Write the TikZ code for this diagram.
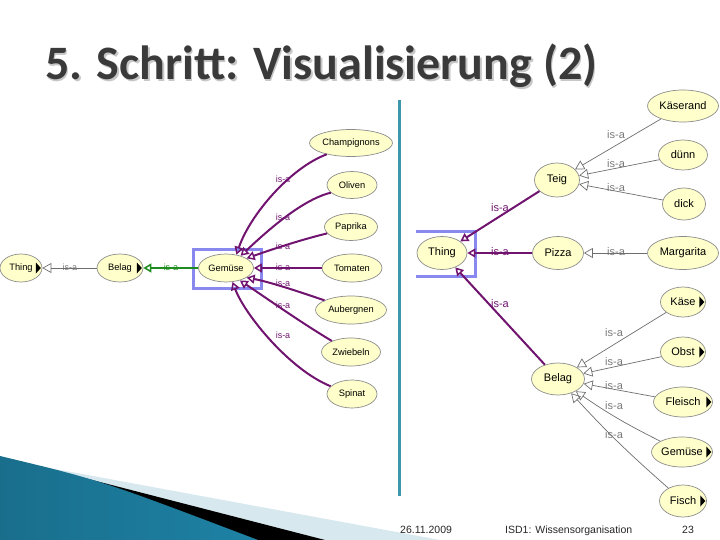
\documentclass[tikz,border=0pt]{standalone}
\usepackage{fontspec}
\setmainfont{Liberation Sans}
\newfontfamily\titlefont{Carlito}
\usetikzlibrary{arrows.meta,shapes.geometric,calc}
\definecolor{nodefill}{HTML}{FFFFCC}
\definecolor{nodedraw}{HTML}{8C8C8C}
\definecolor{isapurple}{RGB}{112,20,112}
\definecolor{isagreen}{RGB}{30,140,30}
\definecolor{isagray}{RGB}{110,110,110}
\definecolor{labgray}{RGB}{120,120,120}
\definecolor{selblue}{RGB}{136,136,238}
\definecolor{tealline}{RGB}{60,150,172}
\definecolor{titlegray}{RGB}{58,58,58}
\definecolor{lightband}{RGB}{215,232,238}
\definecolor{swdark}{RGB}{25,110,140}
\definecolor{swmid}{RGB}{90,180,215}
\definecolor{swright}{RGB}{30,130,165}
\newcommand{\expmark}[1]{\fill ([xshift=-1.5pt]#1.east) -- ++(-5,-5.5) -- ++(0,11) -- cycle;}
\begin{document}
\begin{tikzpicture}[x=1pt,y=-1pt,
  cls/.style={ellipse, draw=nodedraw, fill=nodefill, line width=0.7pt, inner sep=0pt},
  smallcls/.style={cls, font=\fontsize{9.3}{10}\selectfont},
  bigcls/.style={cls, font=\fontsize{11}{12}\selectfont},
  lsmall/.style={font=\fontsize{9}{10}\selectfont, inner sep=0pt},
  lbig/.style={font=\fontsize{11}{12}\selectfont, inner sep=0pt},
  grayedge/.style={draw=isagray, line width=0.7pt, -{Triangle[open, length=9pt, width=10pt]}},
  greenedge/.style={draw=isagreen, line width=2pt, -{Triangle[open, length=8pt, width=9pt, line width=1.5pt]}},
  purpleedge/.style={draw=isapurple, line width=2pt, -{Triangle[open, length=8pt, width=9pt, line width=1.5pt]}},
  selrect/.style={draw=selblue, line width=3pt},
  foot/.style={font=\fontsize{10.5}{12}\selectfont, text=black!85, anchor=base west, inner sep=0pt},
  titletext/.style={anchor=base west, inner sep=0pt, font=\titlefont\fontsize{48}{52}\selectfont\bfseries}
]
\useasboundingbox (0,0) rectangle (720,540);
% swoosh
\fill[lightband] (36,465.5) -- (440,540) -- (0,540) -- cycle;
\fill[black] (36,465.5) -- (325,540) -- (0,540) -- cycle;
\shade[left color=swdark, middle color=swmid, right color=swright] (0,456) .. controls (100,480) .. (258,540) -- (0,540) -- cycle;
% vertical divider
\draw[tealline, line width=3pt] (399,100) -- (399,496);
% title
\node[titletext, text=black!22] at (46.5,81.5) {5. Schritt: Visualisierung (2)};
\node[titletext, text=titlegray] (title) at (45,80) {5. Schritt: Visualisierung (2)};
% selection rectangles
\draw[selrect] (193,249) rectangle (261,288);
\draw[selrect] (416,231.5) -- (475,231.5) -- (475,276.5) -- (416,276.5);
% left nodes
\node[smallcls, minimum width=42pt, minimum height=28pt] (thingL) at (21,268) {Thing\hspace{3pt}};
\node[smallcls, minimum width=46pt, minimum height=28pt] (belagL) at (120,268) {Belag};
\node[smallcls, minimum width=55pt, minimum height=28pt] (gemL) at (226,268) {Gemüse};
\node[smallcls, minimum width=83pt, minimum height=27pt] (champ) at (351,143) {Champignons};
\node[smallcls, minimum width=50pt, minimum height=27pt] (oliv) at (352,185) {Oliven};
\node[smallcls, minimum width=53pt, minimum height=27pt] (papr) at (351,227) {Paprika};
\node[smallcls, minimum width=60pt, minimum height=28pt] (toma) at (352,268) {Tomaten};
\node[smallcls, minimum width=71pt, minimum height=28pt] (auber) at (351,310) {Aubergnen};
\node[smallcls, minimum width=59pt, minimum height=28pt] (zwieb) at (351,352) {Zwiebeln};
\node[smallcls, minimum width=50pt, minimum height=28pt] (spin) at (352,394) {Spinat};
% right nodes
\node[bigcls, minimum width=71pt, minimum height=32pt] (kaeserand) at (683,106) {Käserand};
\node[bigcls, minimum width=49pt, minimum height=30pt] (duenn) at (683,155) {dünn};
\node[bigcls, minimum width=43pt, minimum height=32pt] (dick) at (684,204) {dick};
\node[bigcls, minimum width=45pt, minimum height=34pt] (teig) at (557,180) {Teig};
\node[bigcls, minimum width=50pt, minimum height=33pt] (thingR) at (442,253) {Thing};
\node[bigcls, minimum width=51pt, minimum height=33pt] (pizza) at (558,253) {Pizza};
\node[bigcls, minimum width=71pt, minimum height=33pt] (marg) at (683,253) {Margarita};
\node[bigcls, minimum width=45pt, minimum height=30pt] (kaese) at (683,302) {Käse\hspace{6pt}};
\node[bigcls, minimum width=45pt, minimum height=30pt] (obst) at (683,352) {Obst\hspace{6pt}};
\node[bigcls, minimum width=59pt, minimum height=30pt] (fleisch) at (683,402) {Fleisch\hspace{6pt}};
\node[bigcls, minimum width=61pt, minimum height=30pt] (gemR) at (682,452) {Gemüse\hspace{6pt}};
\node[bigcls, minimum width=47pt, minimum height=32pt] (fisch) at (683,501) {Fisch\hspace{6pt}};
\node[bigcls, minimum width=53pt, minimum height=32pt] (belagR) at (558,379) {Belag};
% left edges
\draw[grayedge] (belagL) -- (thingL);
\draw[greenedge] (gemL) -- (belagL);
\draw[purpleedge] (champ.205) .. controls (290,168) and (250,215) .. (gemL.52);
\draw[purpleedge] (oliv.200) .. controls (300,200) and (262,236) .. (gemL.40);
\draw[purpleedge] (papr.195) .. controls (300,240) and (270,250) .. (gemL.25);
\draw[purpleedge] (toma) -- (gemL);
\draw[purpleedge] (auber.160) .. controls (300,292) and (270,282) .. (gemL.-25);
\draw[purpleedge] (zwieb.150) .. controls (300,322) and (262,295) .. (gemL.-42);
\draw[purpleedge] (spin.160) .. controls (290,370) and (245,315) .. (gemL.-65);
% right edges
\draw[grayedge] (kaeserand) -- (teig);
\draw[grayedge] (duenn) -- (teig);
\draw[grayedge] (dick) -- (teig);
\draw[grayedge] (marg) -- (pizza);
\draw[grayedge] (kaese) -- (belagR);
\draw[grayedge] (obst) -- (belagR);
\draw[grayedge] (fleisch) -- (belagR);
\draw[grayedge] (gemR) to[bend left=4] (belagR);
\draw[grayedge] (fisch) to[bend left=3] (belagR);
\draw[purpleedge] (teig) -- (thingR);
\draw[purpleedge] (pizza) -- (thingR);
\draw[purpleedge] (belagR) -- (thingR);
% expand markers
\expmark{thingL}
\expmark{belagL}
\expmark{kaese}
\expmark{obst}
\expmark{fleisch}
\expmark{gemR}
\expmark{fisch}
% labels left
\node[lsmall, text=labgray] (l1) at (70,267) {is-a};
\node[lsmall, text=isagreen] (l2) at (171,267) {is-a};
\node[lsmall, text=isapurple] (l3) at (283,179) {is-a};
\node[lsmall, text=isapurple] (l4) at (283,217) {is-a};
\node[lsmall, text=isapurple] (l5) at (283,246) {is-a};
\node[lsmall, text=isapurple] (l6) at (283,267) {is-a};
\node[lsmall, text=isapurple] (l7) at (283,283) {is-a};
\node[lsmall, text=isapurple] (l8) at (283,305) {is-a};
\node[lsmall, text=isapurple] (l9) at (283,335) {is-a};
% labels right
\node[lbig, text=isapurple] (r1) at (500,208) {is-a};
\node[lbig, text=isapurple] (r2) at (500,252) {is-a};
\node[lbig, text=isapurple] (r3) at (500,304) {is-a};
\node[lbig, text=labgray] (r4) at (616,135) {is-a};
\node[lbig, text=labgray] (r5) at (616,164) {is-a};
\node[lbig, text=labgray] (r6) at (616,188) {is-a};
\node[lbig, text=labgray] (r7) at (616,252) {is-a};
\node[lbig, text=labgray] (r8) at (614,333) {is-a};
\node[lbig, text=labgray] (r9) at (614,362) {is-a};
\node[lbig, text=labgray] (r10) at (614,386) {is-a};
\node[lbig, text=labgray] (r11) at (614,406) {is-a};
\node[lbig, text=labgray] (r12) at (614,435) {is-a};
% footer
\node[foot] (date) at (400,533) {26.11.2009};
\node[foot] (isd) at (505,533) {ISD1: Wissensorganisation};
\node[foot] (pg) at (682,533) {23};
\end{tikzpicture}
\end{document}
